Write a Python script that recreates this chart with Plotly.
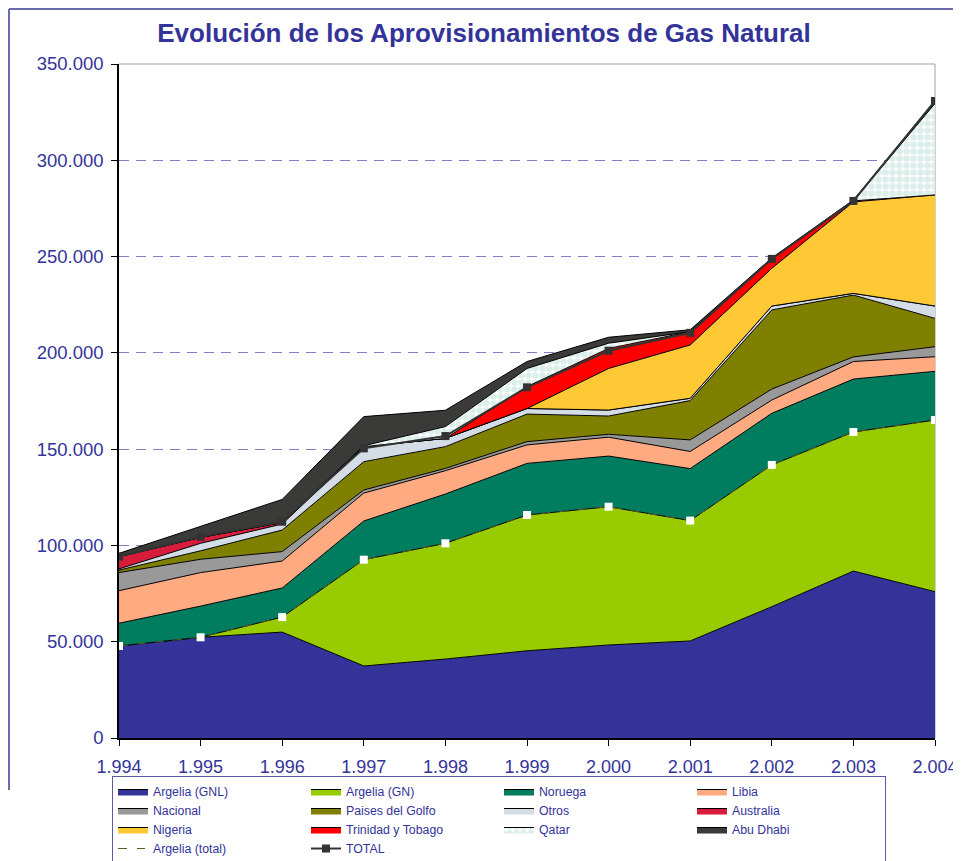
import plotly.graph_objects as go

years = [1994, 1995, 1996, 1997, 1998, 1999, 2000, 2001, 2002, 2003, 2004]

argelia_gnl = [47800, 52300, 55000, 37400, 41000, 45300, 48300, 50400, 68200, 86700, 76000]
argelia_gn = [0, 0, 7800, 55200, 60100, 70500, 71800, 62500, 73600, 72200, 89100]
noruega = [11800, 16200, 15100, 20100, 25600, 26800, 26300, 27000, 26800, 27500, 25300]
libia = [16900, 17400, 14000, 14500, 12100, 9600, 9800, 8900, 6900, 9100, 7600]
nacional = [9400, 6900, 4900, 1600, 1200, 1700, 1500, 6000, 5700, 2400, 5200]
golfo = [1300, 4400, 11200, 14700, 11300, 14300, 9500, 20400, 41100, 32100, 14700]
otros = [600, 3900, 3100, 7800, 4300, 2900, 3100, 1200, 2000, 900, 6400]
australia = [6400, 3100, 800, 0, 0, 0, 0, 0, 0, 0, 0]
nigeria = [0, 0, 0, 0, 0, 0, 21600, 27700, 19600, 47500, 57700]
trinidad = [0, 0, 0, 0, 0, 11400, 10400, 6900, 4900, 500, 0]
qatar = [0, 0, 0, 500, 6100, 9400, 2700, 0, 0, 0, 47500]
abu_dhabi = [1700, 5900, 12000, 15100, 8500, 3600, 3100, 1000, 500, 500, 1000]

argelia_total = [47800, 52300, 62800, 92600, 101100, 115800, 120100, 112900, 141800, 158900, 165100]
total = [94200, 104500, 112300, 150400, 156800, 182100, 201100, 210400, 248800, 278900, 330800]

y_ticks = [0, 50000, 100000, 150000, 200000, 250000, 300000, 350000]

areas = [
    ("Argelia (GNL)", argelia_gnl, "#333399"),
    ("Argelia (GN)", argelia_gn, "#99cc00"),
    ("Noruega", noruega, "#007d5e"),
    ("Libia", libia, "#ffaa80"),
    ("Nacional", nacional, "#999999"),
    ("Paises del Golfo", golfo, "#808000"),
    ("Otros", otros, "#d4dce6"),
    ("Australia", australia, "#d81c3c"),
    ("Nigeria", nigeria, "#ffc835"),
    ("Trinidad y Tobago", trinidad, "#ff0000"),
    ("Qatar", qatar, None),
    ("Abu Dhabi", abu_dhabi, "#3a3b38"),
]

BLUE = "#333399"
FONT = "Liberation Sans, Arial, sans-serif"

fig = go.Figure()
for name, vals, col in areas:
    kw = {}
    if col is None:
        kw["fillcolor"] = "#ffffff"
        kw["fillpattern"] = dict(shape=".", fgcolor="#b9ded4", bgcolor="#ffffff",
                                 size=7, solidity=0.7)
    else:
        kw["fillcolor"] = col
    fig.add_trace(go.Scatter(
        x=years, y=vals, name=name, mode="lines", stackgroup="one",
        line=dict(color="#000000", width=1), hoverinfo="skip", **kw))

fig.add_trace(go.Scatter(
    x=years, y=argelia_total, name="Argelia (total)", mode="lines+markers",
    line=dict(color="#5a5a2a", width=1, dash="dash"),
    marker=dict(symbol="square", size=8, color="#ffffff", line=dict(width=0)),
    hoverinfo="skip"))
fig.add_trace(go.Scatter(
    x=years, y=total, name="TOTAL", mode="lines+markers",
    line=dict(color="#333333", width=2),
    marker=dict(symbol="square", size=8, color="#333333"),
    hoverinfo="skip"))

fig.update_layout(
    width=953, height=853,
    margin=dict(l=111, r=26, t=56, b=123, autoexpand=False),
    paper_bgcolor="#ffffff", plot_bgcolor="#ffffff",
    separators=",.",
    font=dict(family=FONT, color=BLUE, size=17),
    title=dict(text="<b>Evolución de los Aprovisionamientos de Gas Natural</b>",
               x=0.4995, xanchor="center", xref="container", y=0.9707, yanchor="middle",
               yref="container",
               font=dict(family=FONT, size=26, color=BLUE)),
    showlegend=True,
    legend=dict(orientation="h", x=-0.0086, xanchor="left", y=-0.0564, yanchor="top",
                font=dict(family=FONT, size=12.3, color=BLUE),
                entrywidth=148, entrywidthmode="pixels",
                bordercolor="#5a5aa8", borderwidth=1, bgcolor="rgba(0,0,0,0)",
                traceorder="normal", itemwidth=30),
    xaxis=dict(range=[1994, 2004], tickvals=years, tickformat=",d",
               showgrid=False, zeroline=False, automargin=False,
               showline=True, linecolor="#000000", linewidth=2,
               ticks="outside", ticklen=6, tickcolor="#000000",
               ticklabelstandoff=5,
               tickfont=dict(family=FONT, size=18, color=BLUE)),
    yaxis=dict(range=[0, 350000], tickvals=y_ticks, tickformat=",.0f",
               showgrid=True, gridcolor="#8080c4", griddash="10px,7px", gridwidth=1,
               zeroline=False, automargin=False,
               showline=True, linecolor="#000000", linewidth=1.5,
               ticks="outside", ticklen=6, tickcolor="#000000",
               ticklabelstandoff=4,
               tickfont=dict(family=FONT, size=18.5, color=BLUE)),
    shapes=[
        dict(type="line", xref="paper", yref="paper", x0=0, x1=1, y0=1, y1=1,
             line=dict(color="#a0a0a0", width=1), layer="below"),
        dict(type="line", xref="paper", yref="paper", x0=1, x1=1, y0=0, y1=1,
             line=dict(color="#a0a0a0", width=1), layer="below"),
        dict(type="line", xref="paper", yref="paper", x0=-0.1348, x1=1.04, y0=1.0816, y1=1.0816,
             line=dict(color="#6a6aae", width=2)),
        dict(type="line", xref="paper", yref="paper", x0=-0.1348, x1=-0.1348, y0=-0.077, y1=1.0816,
             line=dict(color="#6a6aae", width=2)),
    ],
)

fig.write_html("out.html")
